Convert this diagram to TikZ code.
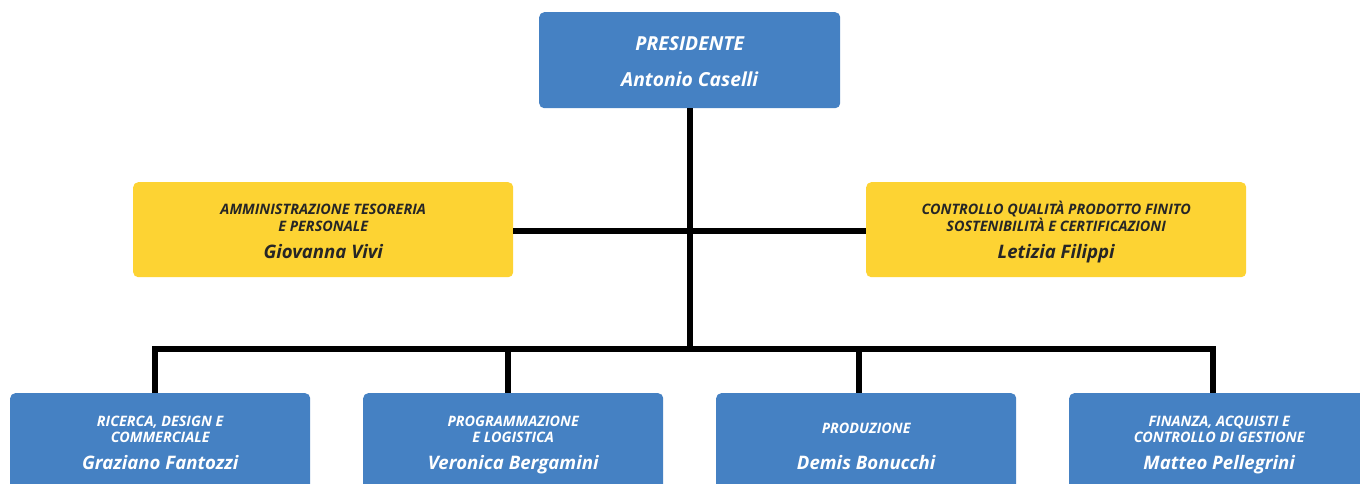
\documentclass[tikz,border=0pt]{standalone}
\usepackage{fontspec}
\setmainfont{Open Sans}
\definecolor{boxblue}{HTML}{4581C3}
\definecolor{boxyellow}{HTML}{FDD333}
\definecolor{darktext}{HTML}{262626}
\begin{document}
\begin{tikzpicture}[x=1pt,y=-1pt,
  box/.style={rectangle, rounded corners=5pt, inner sep=0pt, anchor=north west},
  bluebox/.style={box, fill=boxblue},
  yellowbox/.style={box, fill=boxyellow},
  lab/.style={anchor=base, inner sep=0pt, font=\fontsize{14.4}{17}\selectfont\bfseries\itshape},
  nam/.style={anchor=base, inner sep=0pt, font=\fontsize{18.6}{22}\selectfont\bfseries\itshape},
  pres/.style={anchor=base, inner sep=0pt, font=\fontsize{19.3}{23}\selectfont\bfseries\itshape, text=white},
  wt/.style={text=white},
  dt/.style={text=darktext},
  conn/.style={line width=6pt, draw=black, line join=miter}
]
\useasboundingbox (0,0) rectangle (1360,484);
\clip (0,0) rectangle (1360,484);

% boxes
\node[bluebox, minimum width=301pt, minimum height=96pt] (P) at (539,12) {};
\node[yellowbox, minimum width=380pt, minimum height=95pt] (L) at (133,182) {};
\node[yellowbox, minimum width=380pt, minimum height=95pt] (R) at (866,182) {};
\node[bluebox, minimum width=300pt, minimum height=96pt] (B1) at (10,393) {};
\node[bluebox, minimum width=300pt, minimum height=96pt] (B2) at (363,393) {};
\node[bluebox, minimum width=300pt, minimum height=96pt] (B3) at (716,393) {};
\node[bluebox, minimum width=300pt, minimum height=96pt] (B4) at (1069,393) {};

% connector coordinates
\coordinate (J) at (690,349);
\coordinate (C1) at (155,349);
\coordinate (C2) at (508,349);
\coordinate (C3) at (859,349);
\coordinate (C4) at (1213,349);

% connectors
\draw[conn] (P.south -| J) -- (J);
\draw[conn] ([yshift=-1.5pt]L.east) -- ([yshift=-1.5pt]R.west);
\draw[conn] (C1 |- B1.north) -- (C1) -- (C4) -- (C4 |- B4.north);
\draw[conn] (C2) -- (C2 |- B2.north);
\draw[conn] (C3) -- (C3 |- B3.north);

% president text
\node[pres] (Pt1) at ([yshift=-39pt]P.north) {PRESIDENTE};
\node[pres] (Pt2) at ([yshift=-74.5pt]P.north) {Antonio Caselli};

% left yellow
\node[lab, dt] (Lt1) at ([yshift=-32pt]L.north) {AMMINISTRAZIONE TESORERIA};
\node[lab, dt] (Lt2) at ([yshift=-49pt]L.north) {E PERSONALE};
\node[nam, dt] (Lt3) at ([yshift=-76pt]L.north) {Giovanna Vivi};

% right yellow
\node[lab, dt] (Rt1) at ([yshift=-32pt]R.north) {CONTROLLO QUALITÀ PRODOTTO FINITO};
\node[lab, dt] (Rt2) at ([yshift=-49pt]R.north) {SOSTENIBILITÀ E CERTIFICAZIONI};
\node[nam, dt] (Rt3) at ([yshift=-76pt]R.north) {Letizia Filippi};

% bottom boxes
\node[lab, wt] (B1t1) at ([yshift=-33pt]B1.north) {RICERCA, DESIGN E};
\node[lab, wt] (B1t2) at ([yshift=-49pt]B1.north) {COMMERCIALE};
\node[nam, wt] (B1t3) at ([yshift=-76pt]B1.north) {Graziano Fantozzi};

\node[lab, wt] (B2t1) at ([yshift=-33pt]B2.north) {PROGRAMMAZIONE};
\node[lab, wt] (B2t2) at ([yshift=-49pt]B2.north) {E LOGISTICA};
\node[nam, wt] (B2t3) at ([yshift=-76pt]B2.north) {Veronica Bergamini};

\node[lab, wt] (B3t1) at ([yshift=-40pt]B3.north) {PRODUZIONE};
\node[nam, wt] (B3t3) at ([yshift=-76pt]B3.north) {Demis Bonucchi};

\node[lab, wt] (B4t1) at ([yshift=-33pt]B4.north) {FINANZA, ACQUISTI E};
\node[lab, wt] (B4t2) at ([yshift=-49pt]B4.north) {CONTROLLO DI GESTIONE};
\node[nam, wt] (B4t3) at ([yshift=-76pt]B4.north) {Matteo Pellegrini};
\end{tikzpicture}
\end{document}
